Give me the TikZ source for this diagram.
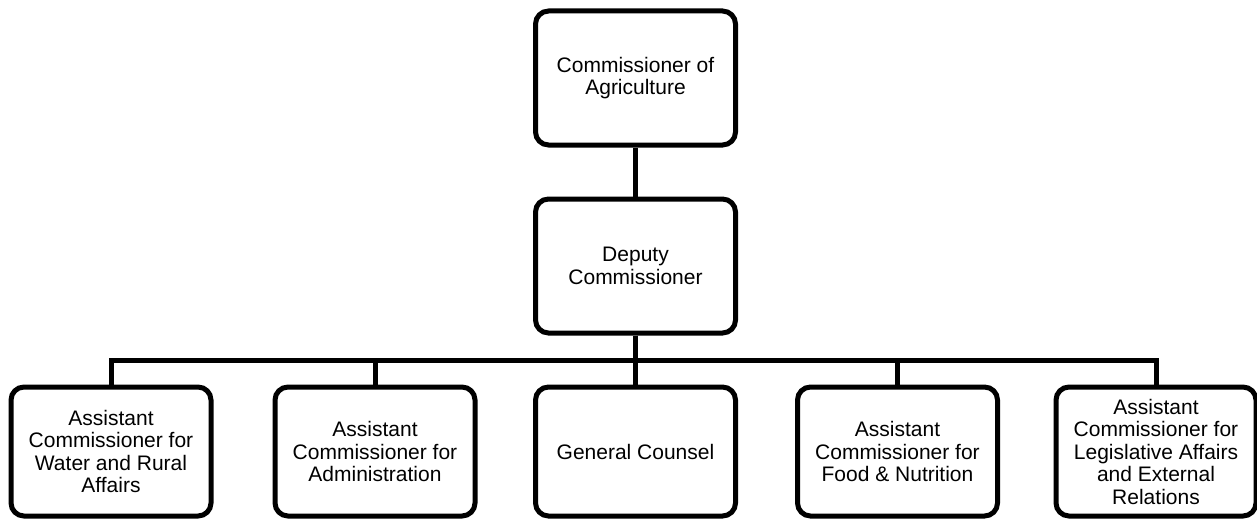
\documentclass[tikz,border=0pt]{standalone}
\usepackage{fontspec}
\setmainfont{Liberation Sans}
\begin{document}
\begin{tikzpicture}[x=1pt,y=-1pt,
  orgbox/.style={draw=black, line width=5pt, rounded corners=13pt, fill=white,
    minimum width=200pt, align=center, inner sep=2pt,
    font=\fontsize{21pt}{22.5pt}\selectfont},
  link/.style={line width=5pt, draw=black}]
\useasboundingbox (0,0) rectangle (1257,519);

% top two levels
\node[orgbox, minimum height=134pt] (comm) at (635.5,78) {Commissioner of\\Agriculture};
\node[orgbox, minimum height=134pt] (dep) at (635.5,266) {Deputy\\Commissioner};

% assistant level
\node[orgbox, minimum height=129pt] (water) at (111,451.5) {Assistant\\Commissioner for\\Water and Rural\\Affairs};
\node[orgbox, minimum height=129pt] (admin) at (375,451.5) {Assistant\\Commissioner for\\Administration};
\node[orgbox, minimum height=129pt] (gc) at (635.5,451.5) {General Counsel};
\node[orgbox, minimum height=129pt] (food) at (897.5,451.5) {Assistant\\Commissioner for\\Food \& Nutrition};
\node[orgbox, minimum height=129pt] (leg) at (1156,451.5) {Assistant\\Commissioner for\\Legislative Affairs\\and External\\Relations};

\coordinate (bus) at (635.5,360);

% connectors
\draw[link] (comm.south) -- (dep.north);
\foreach \c in {water,admin,gc,food,leg}
  \draw[link] (dep.south) -- (dep.south |- bus) -| (\c.north);
\end{tikzpicture}
\end{document}
